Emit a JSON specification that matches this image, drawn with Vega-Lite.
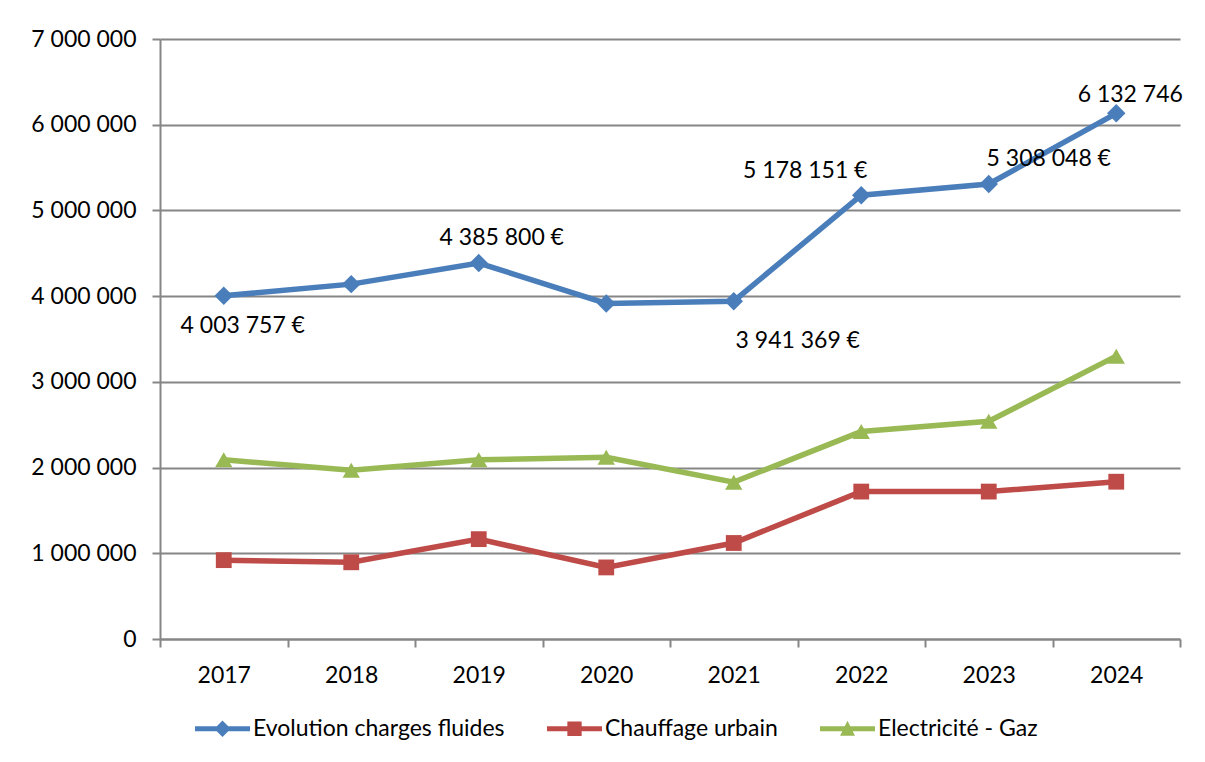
{
  "$schema": "https://vega.github.io/schema/vega-lite/v6.json",
  "width": 1020,
  "height": 600,
  "autosize": {"type": "none"},
  "padding": {"left": 160, "top": 39, "right": 25, "bottom": 123},
  "background": "white",
  "config": {
    "locale": {"number": {"decimal": ",", "thousands": " ", "grouping": [3], "currency": ["", " €"]}},
    "font": "Lato",
    "view": {"stroke": null},
    "axis": {"labelFont": "Lato", "labelFontSize": 23, "labelColor": "#000000", "domainColor": "#868686", "domainWidth": 2, "tickColor": "#868686", "tickWidth": 2, "tickSize": 8, "gridColor": "#868686", "gridWidth": 2, "title": null}
  },
  "data": {"values": [
    {"year": "2017", "series": "Evolution charges fluides", "value": 4003757},
    {"year": "2018", "series": "Evolution charges fluides", "value": 4140000},
    {"year": "2019", "series": "Evolution charges fluides", "value": 4385800},
    {"year": "2020", "series": "Evolution charges fluides", "value": 3915000},
    {"year": "2021", "series": "Evolution charges fluides", "value": 3941369},
    {"year": "2022", "series": "Evolution charges fluides", "value": 5178151},
    {"year": "2023", "series": "Evolution charges fluides", "value": 5308048},
    {"year": "2024", "series": "Evolution charges fluides", "value": 6132746},
    {"year": "2017", "series": "Chauffage urbain", "value": 920000},
    {"year": "2018", "series": "Chauffage urbain", "value": 895000},
    {"year": "2019", "series": "Chauffage urbain", "value": 1165000},
    {"year": "2020", "series": "Chauffage urbain", "value": 835000},
    {"year": "2021", "series": "Chauffage urbain", "value": 1120000},
    {"year": "2022", "series": "Chauffage urbain", "value": 1720000},
    {"year": "2023", "series": "Chauffage urbain", "value": 1720000},
    {"year": "2024", "series": "Chauffage urbain", "value": 1835000},
    {"year": "2017", "series": "Electricité - Gaz", "value": 2090000},
    {"year": "2018", "series": "Electricité - Gaz", "value": 1970000},
    {"year": "2019", "series": "Electricité - Gaz", "value": 2090000},
    {"year": "2020", "series": "Electricité - Gaz", "value": 2120000},
    {"year": "2021", "series": "Electricité - Gaz", "value": 1830000},
    {"year": "2022", "series": "Electricité - Gaz", "value": 2420000},
    {"year": "2023", "series": "Electricité - Gaz", "value": 2540000},
    {"year": "2024", "series": "Electricité - Gaz", "value": 3300000}
  ]},
  "encoding": {
    "x": {"field": "year", "type": "ordinal", "bandPosition": 0.5,
      "scale": {"type": "band", "paddingInner": 0, "paddingOuter": 0},
      "axis": {"tickBand": "extent", "labelAngle": 0, "labelPadding": 17, "grid": false, "labelFontSize": 23}},
    "y": {"field": "value", "type": "quantitative",
      "scale": {"domain": [0, 7000000], "nice": false},
      "axis": {"values": [0, 1000000, 2000000, 3000000, 4000000, 5000000, 6000000, 7000000], "format": ",.0f", "labelPadding": 16, "grid": true, "labelFontSize": 23}}
  },
  "layer": [
    {
      "mark": {"type": "line", "strokeWidth": 5.5},
      "encoding": {
        "color": {"field": "series", "type": "nominal",
          "scale": {"domain": ["Evolution charges fluides", "Chauffage urbain", "Electricité - Gaz"], "range": ["#4A7EBB", "#BE4B48", "#98B954"]},
          "legend": {
            "orient": "none", "legendX": 35, "legendY": 662, "direction": "horizontal", "title": null,
            "labelFont": "Lato", "labelFontSize": 23, "labelColor": "#000000", "labelOffset": 3,
            "columnPadding": 42, "symbolSize": 3025, "symbolStrokeWidth": 0, "symbolOpacity": 1, "labelLimit": 400}}
      }
    },
    {
      "transform": [{"filter": "datum.series === 'Evolution charges fluides'"}],
      "mark": {"type": "point", "filled": true, "opacity": 1, "shape": "diamond", "size": 340},
      "encoding": {"color": {"field": "series", "type": "nominal"}}
    },
    {
      "transform": [{"filter": "datum.series === 'Chauffage urbain'"}],
      "mark": {"type": "point", "filled": true, "opacity": 1, "shape": "square", "size": 250},
      "encoding": {"color": {"field": "series", "type": "nominal"}}
    },
    {
      "transform": [{"filter": "datum.series === 'Electricité - Gaz'"}],
      "mark": {"type": "point", "filled": true, "opacity": 1, "shape": "triangle-up", "size": 300},
      "encoding": {"color": {"field": "series", "type": "nominal"}}
    },
    {
      "transform": [{"filter": "datum.value < 0"}],
      "mark": {"type": "point", "filled": true, "opacity": 1, "size": 3025},
      "encoding": {
        "color": {"field": "series", "type": "nominal"},
        "shape": {"field": "series", "type": "nominal", "legend": null,
          "scale": {"domain": ["Evolution charges fluides", "Chauffage urbain", "Electricité - Gaz"],
            "range": ["M-1,-0.09L1,-0.09L1,0.09L-1,0.09Z M-0.3,0L0,-0.3L0.3,0L0,0.3Z", "M-1,-0.09L1,-0.09L1,0.09L-1,0.09Z M-0.26,-0.26L0.26,-0.26L0.26,0.26L-0.26,0.26Z", "M-1,-0.09L1,-0.09L1,0.09L-1,0.09Z M-0.27,0.25L0,-0.29L0.27,0.25Z"]}}
      }
    },
    {
      "transform": [{"filter": "datum.series === 'Evolution charges fluides' && datum.year === '2017'"}],
      "mark": {"type": "text", "fontSize": 23, "font": "Lato", "color": "#000000", "dx": 19, "dy": 30},
      "encoding": {"text": {"field": "value", "type": "quantitative", "format": "$,.0f"}}
    },
    {
      "transform": [{"filter": "datum.series === 'Evolution charges fluides' && datum.year === '2019'"}],
      "mark": {"type": "text", "fontSize": 23, "font": "Lato", "color": "#000000", "dx": 23, "dy": -25},
      "encoding": {"text": {"field": "value", "type": "quantitative", "format": "$,.0f"}}
    },
    {
      "transform": [{"filter": "datum.series === 'Evolution charges fluides' && datum.year === '2021'"}],
      "mark": {"type": "text", "fontSize": 23, "font": "Lato", "color": "#000000", "dx": 64, "dy": 40},
      "encoding": {"text": {"field": "value", "type": "quantitative", "format": "$,.0f"}}
    },
    {
      "transform": [{"filter": "datum.series === 'Evolution charges fluides' && datum.year === '2022'"}],
      "mark": {"type": "text", "fontSize": 23, "font": "Lato", "color": "#000000", "dx": -56, "dy": -24},
      "encoding": {"text": {"field": "value", "type": "quantitative", "format": "$,.0f"}}
    },
    {
      "transform": [{"filter": "datum.series === 'Evolution charges fluides' && datum.year === '2023'"}],
      "mark": {"type": "text", "fontSize": 23, "font": "Lato", "color": "#000000", "dx": 60, "dy": -25},
      "encoding": {"text": {"field": "value", "type": "quantitative", "format": "$,.0f"}}
    },
    {
      "transform": [{"filter": "datum.series === 'Evolution charges fluides' && datum.year === '2024'"}],
      "mark": {"type": "text", "fontSize": 23, "font": "Lato", "color": "#000000", "dx": 14, "dy": -18},
      "encoding": {"text": {"field": "value", "type": "quantitative", "format": ",.0f"}}
    }
  ]
}
